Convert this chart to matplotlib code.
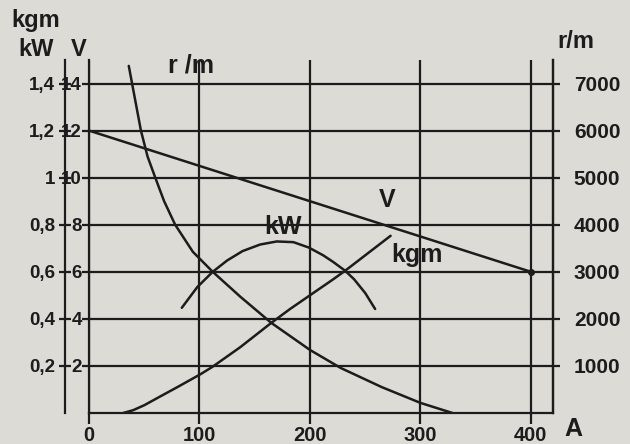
import matplotlib
matplotlib.use("Agg")
import matplotlib.pyplot as plt

# ---- data -------------------------------------------------------------
# Terminal voltage (V) against current (A)
volt_amps = [0, 400]
volts = [12, 6]

# Speed (r/m) against current
rpm_amps = [36, 39, 47, 53, 60, 68, 78, 94, 112, 137, 165, 200, 228, 265, 300, 329]
rpm = [7375, 7000, 6000, 5450, 5000, 4500, 4000, 3425, 3000, 2470, 1915, 1340, 955, 550, 215, 0]

# Output power (kW) against current
kw_amps = [84, 98, 112, 125, 139, 155, 170, 185, 199, 212, 221, 232, 240, 250, 259]
kw = [0.447, 0.535, 0.60, 0.648, 0.688, 0.716, 0.729, 0.726, 0.703, 0.67,
      0.642, 0.604, 0.568, 0.51, 0.442]

# Torque (kgm) against current
kgm_amps = [31, 40, 50, 62, 80, 101, 112, 137, 165, 182, 221, 232, 273]
kgm = [0, 0.012, 0.033, 0.064, 0.11, 0.165, 0.197, 0.28, 0.383, 0.442, 0.568, 0.605, 0.753]

amp_ticks = [0, 100, 200, 300, 400]
volt_ticks = [2, 4, 6, 8, 10, 12, 14]
kw_ticks = [0.2, 0.4, 0.6, 0.8, 1.0, 1.2, 1.4]
kw_labels = ["0,2", "0,4", "0,6", "0,8", "1", "1,2", "1,4"]
rpm_ticks = [1000, 2000, 3000, 4000, 5000, 6000, 7000]

# ---- scale helpers ----------------------------------------------------
def rpm_to_v(r):
    return r / 500.0

def v_to_rpm(v):
    return v * 500.0

def kw_to_v(k):
    return k * 10.0

def v_to_kw(v):
    return v / 10.0

# ---- figure -----------------------------------------------------------
W, H = 630, 444
INK = "#1c1c1c"
BG = "#dcdbd6"
LW = 1.6
FONT = "Liberation Sans"

plt.rcParams["font.family"] = [FONT, "DejaVu Sans"]
plt.rcParams["font.weight"] = "bold"

fig = plt.figure(figsize=(W / 100, H / 100), dpi=100)
fig.patch.set_facecolor(BG)

ax = fig.add_axes([89 / W, (H - 413) / H, (553 - 89) / W, (413 - 60) / H])
ax.set_facecolor(BG)
ax.set_xlim(0, 420)
ax.set_ylim(0, 15)

for side in ("left", "bottom", "right"):
    ax.spines[side].set_linewidth(LW)
    ax.spines[side].set_color(INK)
ax.spines["top"].set_visible(False)

ax.set_xticks(amp_ticks)
ax.set_xticklabels([str(a) for a in amp_ticks])
ax.set_yticks(volt_ticks)
ax.set_yticklabels([str(v) for v in volt_ticks])
ax.tick_params(axis="x", direction="out", length=8, width=LW, color=INK,
               labelsize=14.5, pad=1, labelcolor=INK)
ax.tick_params(axis="y", direction="out", length=5, width=LW, color=INK,
               labelsize=13.5, pad=0, labelcolor=INK)
ax.grid(True, color=INK, linewidth=LW)
ax.set_axisbelow(True)

# right-hand speed scale
rax = ax.secondary_yaxis("right", functions=(v_to_rpm, rpm_to_v))
rax.set_yticks(rpm_ticks)
rax.set_yticklabels([str(r) for r in rpm_ticks])
rax.tick_params(direction="out", length=5, width=LW, color=INK,
                labelsize=15, pad=10, labelcolor=INK)
for s in rax.spines.values():
    s.set_linewidth(LW)
    s.set_color(INK)

# outer left scale for kW / kgm
lax = ax.secondary_yaxis(-24 / 464, functions=(v_to_kw, kw_to_v))
lax.set_yticks(kw_ticks)
lax.set_yticklabels(kw_labels)
lax.tick_params(direction="inout", length=8, width=LW, color=INK,
                labelsize=13.5, pad=3, labelcolor=INK)
for s in lax.spines.values():
    s.set_linewidth(LW)
    s.set_color(INK)

# ---- curves -----------------------------------------------------------
curve = dict(color=INK, lw=LW + 0.2, solid_joinstyle="round", solid_capstyle="round")
ax.plot(volt_amps, volts, **curve)
ax.plot(volt_amps[-1:], volts[-1:], "o", color=INK, ms=4)
ax.plot(rpm_amps, [rpm_to_v(r) for r in rpm], **curve)
ax.plot(kw_amps, [kw_to_v(k) for k in kw], **curve)
ax.plot(kgm_amps, [kw_to_v(k) for k in kgm], **curve)

# curve names
txt = dict(color=INK, fontsize=18, fontweight="bold", ha="center", va="center")
ax.text(92, 14.75, "r /m", **txt)
ax.text(176, 7.9, "kW", **txt)
ax.text(270, 9.05, "V", **txt)
ax.text(297, 6.7, "kgm", **txt)

# axis captions
cap = dict(color=INK, fontsize=17, fontweight="bold", ha="center", va="center")
fig.text(36 / W, 1 - 21 / H, "kgm", **cap)
fig.text(36 / W, 1 - 49 / H, "kW", **cap)
fig.text(79 / W, 1 - 49 / H, "V", **cap)
fig.text(576 / W, 1 - 42 / H, "r/m", **cap)
fig.text(573 / W, 1 - 429 / H, "A", fontsize=18, color=INK, fontweight="bold",
         ha="center", va="center")

fig.savefig("out.png", dpi=100, facecolor=BG)
